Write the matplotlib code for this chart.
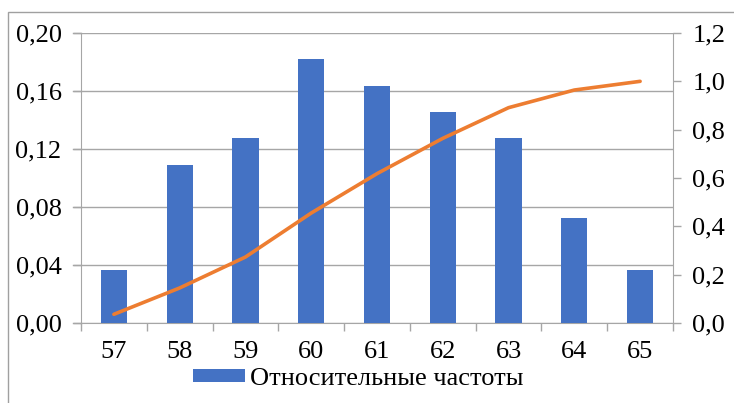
import matplotlib.pyplot as plt
from matplotlib.patches import Rectangle
from matplotlib.ticker import FixedLocator, FuncFormatter

# frequency table (n = 55)
values = [57, 58, 59, 60, 61, 62, 63, 64, 65]
rel_freq = [2/55, 6/55, 7/55, 10/55, 9/55, 8/55, 7/55, 4/55, 2/55]
cum_freq = [0.036, 0.145, 0.273, 0.455, 0.618, 0.764, 0.891, 0.964, 1.0]
left_ticks = [0.00, 0.04, 0.08, 0.12, 0.16, 0.20]
right_ticks = [0.0, 0.2, 0.4, 0.6, 0.8, 1.0, 1.2]

plt.rcParams['font.family'] = 'serif'
plt.rcParams['font.serif'] = ['Liberation Serif', 'Times New Roman', 'DejaVu Serif']
plt.rcParams['font.size'] = 19

bar_color = '#4472C4'
line_color = '#ED7D31'
grid_color = '#A6A6A6'

fig = plt.figure(figsize=(7.34, 4.03), dpi=100)
ax = fig.add_axes([81/734, 1 - 323/403, 592/734, 290/403])

pos = list(range(len(values)))
bars = ax.bar(pos, rel_freq, width=0.4, color=bar_color, label='Относительные частоты', zorder=3)

ax.set_xlim(-0.5, len(values) - 0.5)
ax.set_ylim(0, 0.20)
ax.set_yticks(left_ticks)
ax.yaxis.set_major_formatter(FuncFormatter(lambda v, p: f'{v:.2f}'.replace('.', ',')))
ax.set_xticks(pos)
ax.set_xticklabels([str(v) for v in values])
ax.xaxis.set_minor_locator(FixedLocator([p - 0.5 for p in pos] + [len(values) - 0.5]))
ax.tick_params(axis='x', which='major', length=0, pad=13)
ax.tick_params(axis='x', which='minor', length=6, color=grid_color, width=1)
ax.tick_params(axis='y', length=6, color=grid_color, width=1, pad=8)
ax.grid(axis='y', color=grid_color, linewidth=1, zorder=0)

for s in ['left', 'bottom']:
    ax.spines[s].set_color(grid_color)
ax.spines['top'].set_visible(False)
ax.spines['right'].set_visible(False)

ax2 = ax.twinx()
ax2.plot(pos, cum_freq, color=line_color, linewidth=2.6, solid_capstyle='round', zorder=4)
ax2.set_ylim(0, 1.2)
ax2.set_yticks(right_ticks)
ax2.yaxis.set_major_formatter(FuncFormatter(lambda v, p: f'{v:.1f}'.replace('.', ',')))
ax2.tick_params(axis='y', length=6, color=grid_color, width=1, pad=8)
for s in ['left', 'top', 'bottom']:
    ax2.spines[s].set_visible(False)
ax2.spines['right'].set_color(grid_color)

# gridlines reach out to the tick marks on the left
for t in left_ticks:
    ax.plot([-0.5 - 8/65.8, -0.5], [t, t], color=grid_color, lw=1, clip_on=False, zorder=1)

fig.legend(handles=[bars], loc='center left', bbox_to_anchor=(193/734, 1 - 379/403),
           frameon=False, handlelength=1.97, handleheight=0.38, handletextpad=0.2,
           borderpad=0, borderaxespad=0)

# outer chart frame
fig.patches.append(Rectangle((8/734, -0.1), 1.0, 1 - 12/403 + 0.1, transform=fig.transFigure,
                             fill=False, edgecolor='#A0A0A0', linewidth=1))

fig.savefig('out.png', dpi=100)
